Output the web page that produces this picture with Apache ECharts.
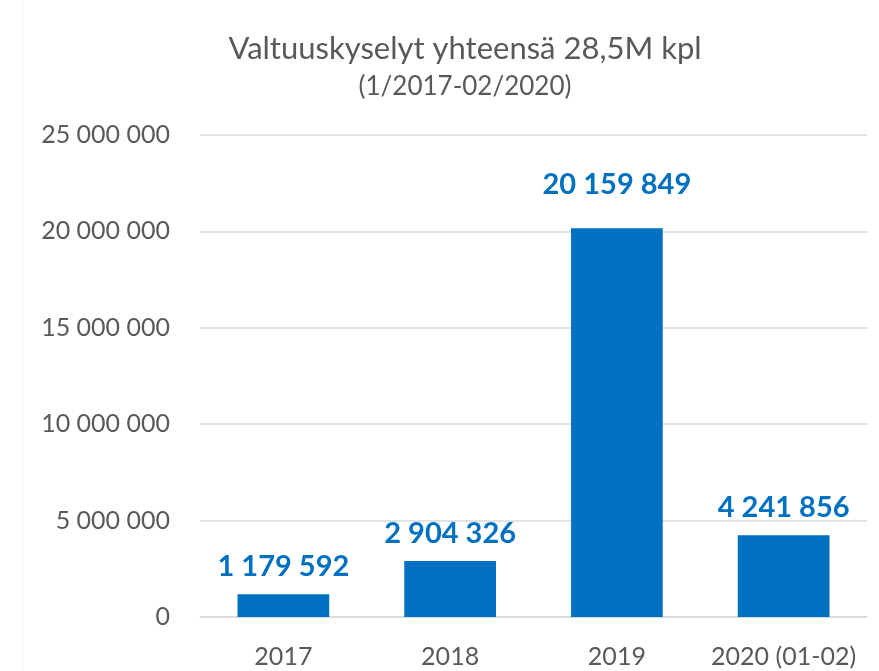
<!DOCTYPE html>
<html>
<head>
<meta charset="utf-8">
<script src="https://cdn.jsdelivr.net/npm/echarts@6/dist/echarts.min.js"></script>
<style>
  html, body { margin: 0; padding: 0; background: #fff; }
  #chart { width: 879px; height: 671px; }
</style>
</head>
<body>
<div id="chart"></div>
<script>
const categories = ["2017", "2018", "2019", "2020 (01-02)"];
const values = [1179592, 2904326, 20159849, 4241856];
const yTicks = [0, 5000000, 10000000, 15000000, 20000000, 25000000];

const fontFamily = "Lato, 'Open Sans', sans-serif";
const blue = "#0070C0";
const gray = "#595959";

// 1234567 -> "1 234 567"
function fmt(v) {
  return String(Math.round(v)).replace(/\B(?=(\d{3})+(?!\d))/g, " ");
}

// the 2019 label sits a bit higher above its bar in the original
const seriesData = values.map((v, i) =>
  i === 2 ? { value: v, label: { distance: 29 } } : v
);

const chart = echarts.init(document.getElementById("chart"));
chart.setOption({
  backgroundColor: "#fff",
  animation: false,
  title: {
    text: "Valtuuskyselyt yhteensä 28,5M kpl",
    subtext: "(1/2017-02/2020)",
    left: 460,
    textAlign: "center",
    top: 28,
    itemGap: 10,
    textStyle: { color: gray, fontFamily, fontSize: 31, fontWeight: "normal" },
    subtextStyle: { color: gray, fontFamily, fontSize: 26 },
  },
  grid: { left: 200, right: 12, top: 135, bottom: 54 },
  xAxis: {
    type: "category",
    data: categories,
    axisTick: { show: false },
    axisLine: { lineStyle: { color: "#D9D9D9", width: 1.5 } },
    axisLabel: { color: gray, fontFamily, fontSize: 25, margin: 27, interval: 0 },
  },
  yAxis: {
    type: "value",
    min: yTicks[0],
    max: yTicks[yTicks.length - 1],
    interval: yTicks[1] - yTicks[0],
    axisLine: { show: false },
    axisTick: { show: false },
    splitLine: { lineStyle: { color: "#D9D9D9", width: 1.5 } },
    axisLabel: { color: gray, fontFamily, fontSize: 25, margin: 30, formatter: fmt },
  },
  series: [
    {
      type: "bar",
      data: seriesData,
      barCategoryGap: "45%",
      itemStyle: { color: blue },
      label: {
        show: true,
        position: "top",
        distance: 13,
        color: blue,
        fontFamily,
        fontWeight: "bold",
        fontSize: 29,
        formatter: (p) => fmt(p.value),
      },
    },
  ],
  graphic: [
    {
      type: "line",
      shape: { x1: 23, y1: 0, x2: 23, y2: 671 },
      style: { stroke: "#F2F2F2", lineWidth: 1 },
    },
  ],
});
</script>
</body>
</html>
